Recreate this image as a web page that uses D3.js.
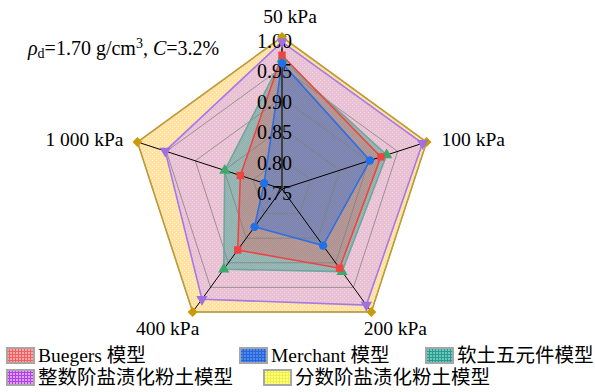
<!DOCTYPE html>
<html>
<head>
<meta charset="utf-8">
<script src="https://cdn.jsdelivr.net/npm/d3@7"></script>
<style>
  html, body { margin: 0; padding: 0; background: #fff; }
  svg { display: block; }
  text { font-family: "Liberation Serif", "Times New Roman", "Noto Sans CJK SC", serif; fill: #000; }
</style>
</head>
<body>
<svg id="chart" width="595" height="392"></svg>
<script>
// Load levels, clockwise from the top spoke
const categories = ["50 kPa", "100 kPa", "200 kPa", "400 kPa", "1 000 kPa"];
const tickValues = [0.75, 0.80, 0.85, 0.90, 0.95, 1.00];

const buegers    = [0.970, 0.921, 0.911, 0.874, 0.822];
const merchant   = [0.957, 0.902, 0.865, 0.827, 0.781];
const softSoil   = [0.964, 0.931, 0.918, 0.913, 0.849];
const integerOrd = [0.992, 0.993, 0.986, 0.974, 0.952];
const fractional = [1.000, 1.000, 1.000, 1.000, 1.000];

const seriesNames = ["Buegers 模型", "Merchant 模型", "软土五元件模型", "整数阶盐渍化粉土模型", "分数阶盐渍化粉土模型"];

const svg = d3.select("#chart");
const defs = svg.append("defs");

const cx = 282, cy = 189, R = 152;
const r = d3.scaleLinear().domain([0.75, 1.0]).range([0, R]);
const angle = d3.scaleLinear().domain([0, categories.length]).range([0, 2 * Math.PI]);
const pt = (i, v) => [cx + r(v) * Math.sin(angle(i)), cy - r(v) * Math.cos(angle(i))];

// dotted texture fills
function dotPattern(id, base, baseOpacity, dot, dotOpacity, size) {
  const p = defs.append("pattern").attr("id", id).attr("patternUnits", "userSpaceOnUse")
    .attr("width", size).attr("height", size);
  p.append("rect").attr("width", size).attr("height", size).attr("fill", base).attr("fill-opacity", baseOpacity);
  p.append("rect").attr("x", 0).attr("y", 0).attr("width", 1).attr("height", 1).attr("fill", dot).attr("fill-opacity", dotOpacity);
  p.append("rect").attr("x", size / 2).attr("y", size / 2).attr("width", 1).attr("height", 1).attr("fill", dot).attr("fill-opacity", dotOpacity);
}
dotPattern("fillFrac", "#FFE2A2", 1, "#FFF4D6", 1, 4);
dotPattern("fillInt", "#E8C1D8", 1, "#F6D8C6", 1, 4);
dotPattern("fillSoft", "#58A092", 0.6, "#9CC8C0", 0.6, 2);
dotPattern("fillBue", "#D85050", 0.28, "#E89090", 0.35, 2);
dotPattern("fillMer", "#3466C4", 0.36, "#7090D8", 0.4, 2);

// legend swatch textures (grid look)
function gridPattern(id, base, line) {
  const p = defs.append("pattern").attr("id", id).attr("patternUnits", "userSpaceOnUse")
    .attr("width", 3).attr("height", 3);
  p.append("rect").attr("width", 3).attr("height", 3).attr("fill", base);
  p.append("rect").attr("width", 3).attr("height", 1).attr("fill", line);
  p.append("rect").attr("width", 1).attr("height", 3).attr("fill", line);
}
gridPattern("swBue", "#F8A8A8", "#F06060");
gridPattern("swMer", "#4C8CF0", "#2A64D8");
gridPattern("swSoft", "#6CC8BC", "#2A9A8C");
gridPattern("swInt", "#E0A0F8", "#B040E8");
gridPattern("swFrac", "#FFFF88", "#F0F040");

const series = [
  { name: seriesNames[4], values: fractional, fill: "url(#fillFrac)", stroke: "#BF9B3A", marker: "diamond", mcol: "#C99A0A", sw: "url(#swFrac)" },
  { name: seriesNames[3], values: integerOrd, fill: "url(#fillInt)", stroke: "#A678E8", marker: "tridown", mcol: "#A070E0", sw: "url(#swInt)" },
  { name: seriesNames[2], values: softSoil, fill: "url(#fillSoft)", stroke: "#6FA79C", marker: "triup", mcol: "#3CAA6A", sw: "url(#swSoft)" },
  { name: seriesNames[0], values: buegers, fill: "url(#fillBue)", stroke: "#F04444", marker: "square", mcol: "#F04444", sw: "url(#swBue)" },
  { name: seriesNames[1], values: merchant, fill: "url(#fillMer)", stroke: "#2F6FE0", marker: "circle", mcol: "#2070E8", sw: "url(#swMer)" }
];

const ring = vals => d3.line()(vals.map((v, i) => pt(i, v))) + "Z";

// filled areas, back to front
const areas = svg.append("g");
series.forEach(s => {
  areas.append("path").attr("d", ring(s.values)).attr("fill", s.fill).attr("stroke", "none");
});

// grid rings and spokes
const grid = svg.append("g");
tickValues.slice(1).forEach(t => {
  grid.append("path").attr("d", ring(categories.map(() => t)))
    .attr("fill", "none").attr("stroke", "#7F7F7F").attr("stroke-opacity", 0.75).attr("stroke-width", 1);
});
categories.forEach((c, i) => {
  const [x, y] = pt(i, 1.0);
  grid.append("line").attr("x1", cx).attr("y1", cy).attr("x2", x).attr("y2", y)
    .attr("stroke", "#000").attr("stroke-width", 1);
});
// value axis
grid.append("line").attr("x1", cx).attr("y1", cy).attr("x2", cx).attr("y2", pt(0, 1.0)[1])
  .attr("stroke", "#404040").attr("stroke-width", 2);

// series outlines
const outlines = svg.append("g");
series.forEach(s => {
  outlines.append("path").attr("d", ring(s.values)).attr("fill", "none")
    .attr("stroke", s.stroke).attr("stroke-width", 1.6).attr("stroke-linejoin", "miter");
});

// value tick labels
svg.append("g").selectAll("text").data(tickValues).join("text")
  .attr("x", 257).attr("y", d => cy - r(d) + 11)
  .attr("font-size", 20).text(d => d.toFixed(2));

// markers
const symType = { diamond: d3.symbolSquare, tridown: d3.symbolTriangle, triup: d3.symbolTriangle, square: d3.symbolSquare, circle: d3.symbolCircle };
const symSize = { diamond: 50, tridown: 55, triup: 55, square: 55, circle: 55 };
const symRot = { diamond: 45, tridown: 180, triup: 0, square: 0, circle: 0 };
const markers = svg.append("g");
series.forEach(s => {
  s.values.forEach((v, i) => {
    const [x, y] = pt(i, v);
    markers.append("path")
      .attr("d", d3.symbol().type(symType[s.marker]).size(symSize[s.marker])())
      .attr("transform", `translate(${x},${y}) rotate(${symRot[s.marker]})`)
      .attr("fill", s.mcol);
  });
});

// category labels
const catPos = [
  { dx: 8, dy: -14, anchor: "middle" },
  { dx: 15, dy: 4, anchor: "start" },
  { dx: 24, dy: 23, anchor: "middle" },
  { dx: -25, dy: 23, anchor: "middle" },
  { dx: -14, dy: 4, anchor: "end" }
];
categories.forEach((c, i) => {
  const [x, y] = pt(i, 1.0);
  svg.append("text").attr("x", x + catPos[i].dx).attr("y", y + catPos[i].dy)
    .attr("text-anchor", catPos[i].anchor).attr("font-size", 19.5).text(c);
});

// condition note
const note = svg.append("text").attr("x", 28).attr("y", 55).attr("font-size", 20);
note.append("tspan").attr("font-style", "italic").text("ρ");
note.append("tspan").attr("font-size", 14).attr("dy", 3).text("d");
note.append("tspan").attr("dy", -3).text("=1.70 g/cm");
note.append("tspan").attr("font-size", 14).attr("dy", -7).text("3");
note.append("tspan").attr("dy", 7).text(", ");
note.append("tspan").attr("font-style", "italic").text("C");
note.append("tspan").text("=3.2%");

// legend
const legendItems = [
  { s: series[3], x: 6, y: 347 },
  { s: series[4], x: 239, y: 347 },
  { s: series[2], x: 425, y: 347 },
  { s: series[1], x: 6, y: 369 },
  { s: series[0], x: 263, y: 369 }
];
const lg = svg.append("g");
legendItems.forEach(it => {
  lg.append("rect").attr("x", it.x + 1).attr("y", it.y + 1).attr("width", 27).attr("height", 15)
    .attr("fill", it.s.sw).attr("stroke", "#A6A6A6").attr("stroke-width", 2);
  lg.append("text").attr("x", it.x + 32).attr("y", it.y + 15).attr("font-size", 19.5).text(it.s.name);
});
</script>
</body>
</html>
